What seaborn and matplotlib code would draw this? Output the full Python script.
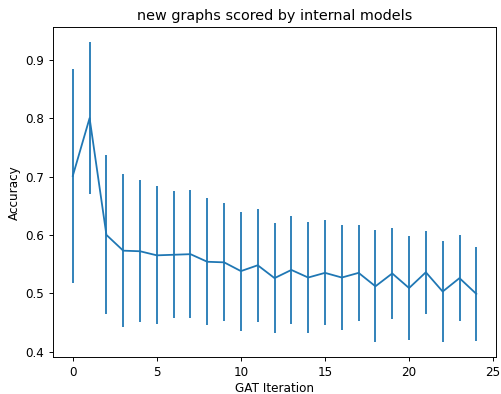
import seaborn as sns
import matplotlib.pyplot as plt
import numpy as np

# GAT iteration vs. mean accuracy (+/- spread)
iterations = list(range(25))
mean_acc = [0.701, 0.800, 0.600, 0.573, 0.572, 0.565, 0.566, 0.567, 0.554, 0.553,
            0.538, 0.548, 0.526, 0.540, 0.527, 0.535, 0.527, 0.535, 0.512, 0.534,
            0.509, 0.536, 0.503, 0.526, 0.499]
err_acc = [0.183, 0.130, 0.136, 0.131, 0.122, 0.118, 0.109, 0.110, 0.109, 0.101,
           0.102, 0.097, 0.094, 0.093, 0.095, 0.090, 0.090, 0.082, 0.096, 0.078,
           0.089, 0.071, 0.086, 0.074, 0.081]

dpi = 86
fig = plt.figure(figsize=(501 / dpi, 394 / dpi), dpi=dpi)
ax = fig.add_axes([0.105, 0.093, 0.886, 0.838])

sns.lineplot(x=iterations, y=mean_acc, ax=ax, color="#1f77b4", linewidth=1.5)
ax.errorbar(iterations, mean_acc, yerr=err_acc, fmt="none", ecolor="#1f77b4", elinewidth=1.5)

ax.set_title("new graphs scored by internal models")
ax.set_xlabel("GAT Iteration", labelpad=2.5)
ax.set_ylabel("Accuracy")

fig.savefig("out.png", dpi=dpi)
